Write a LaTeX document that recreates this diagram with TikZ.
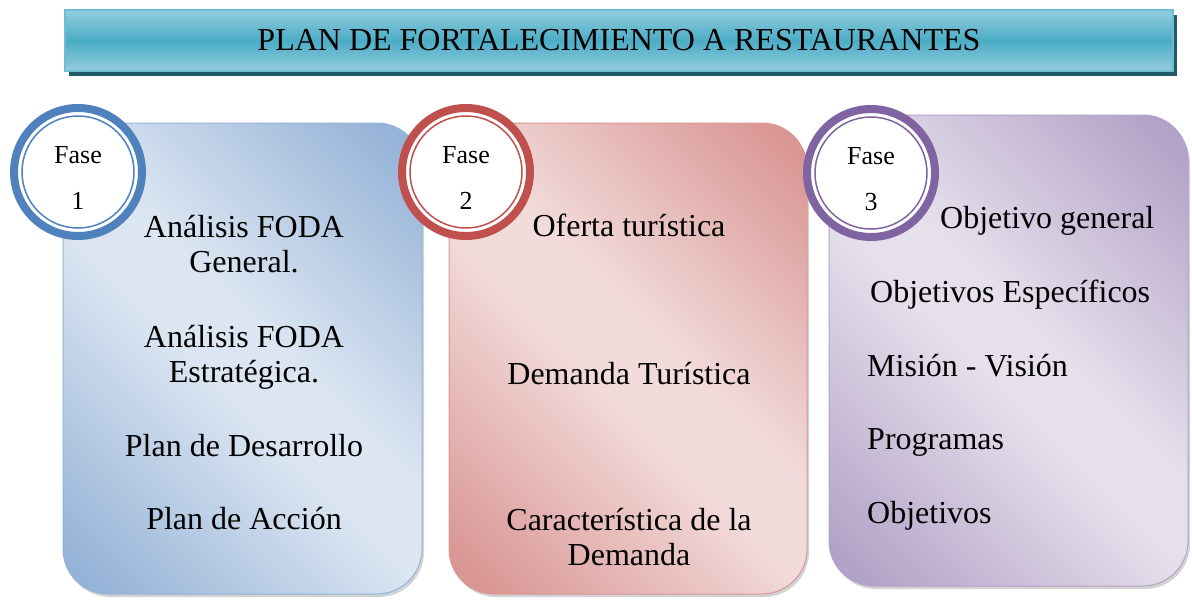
\documentclass[tikz,border=0pt]{standalone}
\usepackage{fontspec}
\setmainfont{Liberation Serif}
\usetikzlibrary{shadows,positioning}
\definecolor{cB}{HTML}{4F81BD}
\definecolor{cBl}{HTML}{DCE6F2}
\definecolor{cBd}{HTML}{95B3D7}
\definecolor{cR}{HTML}{C0504D}
\definecolor{cRl}{HTML}{F2DCDB}
\definecolor{cRd}{HTML}{D99694}
\definecolor{cP}{HTML}{8064A2}
\definecolor{cPl}{HTML}{E5E0EC}
\definecolor{cPd}{HTML}{B3A2C7}
\definecolor{cT}{HTML}{4BACC6}
\definecolor{cTl}{HTML}{93CDDD}
\definecolor{cTd}{HTML}{215968}
\pgfdeclareverticalshading{shadeB}{100bp}{color(0bp)=(cBd); color(18bp)=(cBd); color(46bp)=(cBl); color(54bp)=(cBl); color(82bp)=(cBd); color(100bp)=(cBd)}
\pgfdeclareverticalshading{shadeR}{100bp}{color(0bp)=(cRd); color(18bp)=(cRd); color(46bp)=(cRl); color(54bp)=(cRl); color(82bp)=(cRd); color(100bp)=(cRd)}
\pgfdeclareverticalshading{shadeP}{100bp}{color(0bp)=(cPd); color(18bp)=(cPd); color(46bp)=(cPl); color(54bp)=(cPl); color(82bp)=(cPd); color(100bp)=(cPd)}
\tikzset{mytitle/.style={
  shape=rectangle,
  draw=cT!80,
  line width=1.5pt,
  top color=cTl,
  bottom color=cTl,
  middle color=cT,
  minimum width=1108pt,
  minimum height=61pt,
  drop shadow={shadow xshift=4pt, shadow yshift=-5pt, fill=cTd, opacity=1},
  font=\fontsize{32}{36}\selectfont,
  text = black,
  }
}
\tikzset{mypanelB/.style={
  shape=rectangle,
  rounded corners=45pt,
  draw=cBd,
  line width=1pt,
  shading=shadeB,
  shading angle=-45,
  minimum width=359pt,
  minimum height=471pt,
  drop shadow={shadow xshift=2pt, shadow yshift=-3pt, opacity=0.35},
  }
}
\tikzset{mypanelR/.style={
  shape=rectangle,
  rounded corners=45pt,
  draw=cRd,
  line width=1pt,
  shading=shadeR,
  shading angle=-45,
  minimum width=358pt,
  minimum height=471pt,
  drop shadow={shadow xshift=2pt, shadow yshift=-3pt, opacity=0.35},
  }
}
\tikzset{mypanelP/.style={
  shape=rectangle,
  rounded corners=45pt,
  draw=cPd,
  line width=1pt,
  shading=shadeP,
  shading angle=-45,
  minimum width=359pt,
  minimum height=471pt,
  drop shadow={shadow xshift=2pt, shadow yshift=-3pt, opacity=0.35},
  }
}
\tikzset{myphase/.style={
  shape=circle,
  draw=#1,
  fill=white,
  line width=8pt,
  minimum size=128pt,
  inner sep=0pt,
  path picture={\draw[#1, line width=1.5pt] (path picture bounding box.center) circle (56pt);},
  }
}
\tikzset{myphasetext/.style={
  align=center,
  inner sep=0pt,
  font=\fontsize{26}{46}\selectfont,
  text = black,
  }
}
\tikzset{mytext/.style={
  align=center,
  anchor=base,
  inner sep=0pt,
  font=\fontsize{32}{35}\selectfont,
  text = black,
  }
}

\begin{document}
\begin{tikzpicture}[x=1pt,y=-1pt]
  \useasboundingbox (0,0) rectangle (1192,600);
  \node[mytitle] (title) at (619,40.5) {PLAN DE FORTALECIMIENTO A RESTAURANTES};

  \node[mypanelB] (p1) at (242.5,358.5) {};
  \node[mypanelR] (p2) at (628,358.5) {};
  \node[mypanelP] (p3) at (1008.5,350.5) {};

  \node[myphase=cB] (f1) at (78,172) {};
  \node[myphase=cR] (f2) at (466,172) {};
  \node[myphase=cP] (f3) at (871,173) {};
  \node[myphasetext] (n1) at ([yshift=-6pt]f1.center) {Fase\\1};
  \node[myphasetext] (n2) at ([yshift=-6pt]f2.center) {Fase\\2};
  \node[myphasetext] (n3) at ([yshift=-6pt]f3.center) {Fase\\3};

  \node[mytext] (a1) at (244,272) {Análisis FODA\\General.};
  \node[mytext] (a2) at (244,382) {Análisis FODA\\Estratégica.};
  \node[mytext] (a3) at (244,456) {Plan de Desarrollo};
  \node[mytext] (a4) at (244,529) {Plan de Acción};

  \node[mytext] (b1) at (629,236) {Oferta turística};
  \node[mytext] (b2) at (629,384) {Demanda Turística};
  \node[mytext] (b3) at (629,565) {Característica de la\\Demanda};

  \node[mytext, anchor=base west] (c1) at (940,228) {Objetivo general};
  \node[mytext, anchor=base west] (c2) at (870,302) {Objetivos Específicos};
  \node[mytext, anchor=base west] (c3) at (867,376) {Misión - Visión};
  \node[mytext, anchor=base west] (c4) at (867,449) {Programas};
  \node[mytext, anchor=base west] (c5) at (867,523) {Objetivos};
\end{tikzpicture}
\end{document}
